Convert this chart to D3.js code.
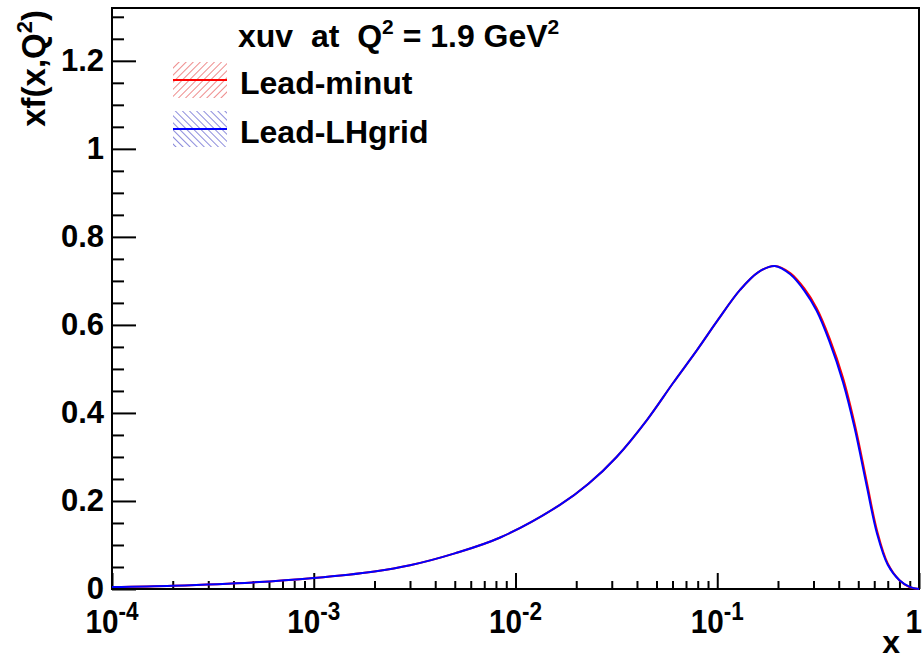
<!DOCTYPE html>
<html>
<head>
<meta charset="utf-8">
<script src="https://cdn.jsdelivr.net/npm/d3@7"></script>
<style>
  body { margin: 0; background: #fff; }
  text { font-family: "Liberation Sans", Arial, Helvetica, sans-serif; font-weight: bold; }
</style>
</head>
<body>
<svg id="chart"></svg>
<script>
const width = 922
const height = 659

// values
const xValues = [1e-4, 2e-4, 5e-4, 1e-3, 2e-3, 3e-3, 5e-3, 0.0084, 0.0166, 0.023, 0.0317, 0.045, 0.0604,
  0.08, 0.1, 0.13, 0.16, 0.193, 0.23, 0.27, 0.311, 0.36, 0.42, 0.48, 0.55, 0.62, 0.7, 0.8, 0.9, 1]
const minutValues = [0.0045, 0.0075, 0.015, 0.025, 0.04, 0.054, 0.081, 0.117, 0.191, 0.239, 0.30, 0.385, 0.468,
  0.545, 0.609, 0.68, 0.72, 0.734, 0.718, 0.683, 0.638, 0.57, 0.48, 0.375, 0.245, 0.132, 0.058, 0.02, 0.004, 0]
const lhgridValues = [0.0045, 0.0075, 0.015, 0.025, 0.04, 0.054, 0.081, 0.117, 0.191, 0.239, 0.30, 0.385, 0.468,
  0.545, 0.609, 0.68, 0.72, 0.734, 0.715, 0.678, 0.632, 0.562, 0.47, 0.365, 0.235, 0.125, 0.055, 0.02, 0.005, 0]

const seriesNames = ["Lead-minut", "Lead-LHgrid"]
const seriesColors = ["#ff0000", "#0000ff"]
const yTickValues = [0, 0.2, 0.4, 0.6, 0.8, 1, 1.2]
const xTickExponents = [-4, -3, -2, -1, 0]

const x = d3.scaleLog().domain([1e-4, 1]).range([112, 919])
const y = d3.scaleLinear().domain([0, 1.32]).range([589, 8])

const svg = d3.select("#chart").attr("width", width).attr("height", height)

// hatch patterns for the legend
const defs = svg.append("defs")
function hatch(id, color, angle) {
  const p = defs.append("pattern")
    .attr("id", id)
    .attr("patternUnits", "userSpaceOnUse")
    .attr("width", 5)
    .attr("height", 5)
    .attr("patternTransform", `rotate(${angle})`)
  p.append("line")
    .attr("x1", 0.5).attr("y1", 0).attr("x2", 0.5).attr("y2", 5)
    .attr("stroke", color)
    .attr("stroke-width", 1)
}
hatch("hatchRed", "#ee8c8c", 45)
hatch("hatchBlue", "#8c8cdc", -45)

// minor ticks
const yMinor = d3.range(0, 1.3001, 0.05).filter((v) => Math.abs(v / 0.2 - Math.round(v / 0.2)) > 1e-6)
const xMinor = []
xTickExponents.slice(0, -1).forEach((e) => {
  for (let k = 2; k <= 9; k++) xMinor.push(k * Math.pow(10, e))
})

svg.append("g")
  .attr("transform", `translate(${x.range()[0]},0)`)
  .call(d3.axisLeft(y).tickValues(yTickValues).tickSize(-24).tickSizeOuter(0).tickPadding(8)
    .tickFormat(d3.format("~g")))
  .call((g) => g.select(".domain").remove())
  .call((g) => g.selectAll("line").attr("stroke", "#000").attr("stroke-width", 2))
  .call((g) => g.selectAll("text").attr("font-size", 31).attr("fill", "#000").attr("font-family", null))

svg.append("g")
  .attr("transform", `translate(${x.range()[0]},0)`)
  .call(d3.axisLeft(y).tickValues(yMinor).tickSize(-12).tickSizeOuter(0).tickFormat(""))
  .call((g) => g.select(".domain").remove())
  .call((g) => g.selectAll("line").attr("stroke", "#000").attr("stroke-width", 2))

svg.append("g")
  .attr("transform", `translate(0,${y.range()[0]})`)
  .call(d3.axisBottom(x).tickValues(xTickExponents.map((e) => Math.pow(10, e))).tickSize(-16).tickSizeOuter(0).tickFormat(""))
  .call((g) => g.select(".domain").remove())
  .call((g) => g.selectAll("line").attr("stroke", "#000").attr("stroke-width", 2))

svg.append("g")
  .attr("transform", `translate(0,${y.range()[0]})`)
  .call(d3.axisBottom(x).tickValues(xMinor).tickSize(-8).tickSizeOuter(0).tickFormat(""))
  .call((g) => g.select(".domain").remove())
  .call((g) => g.selectAll("line").attr("stroke", "#000").attr("stroke-width", 2))

// x tick labels 10^n
xTickExponents.forEach((e) => {
  const last = e === 0
  const g = svg.append("g")
    .attr("transform", `translate(${last ? 922 : x(Math.pow(10, e))},633) scale(0.9,1)`)
  const t = g.append("text").attr("text-anchor", last ? "end" : "middle").attr("font-size", 33)
  if (last) {
    t.text("1")
  } else {
    t.append("tspan").text("10")
    t.append("tspan").attr("font-size", 25).attr("dy", -13).text(e)
  }
})

// frame
svg.append("rect")
  .attr("x", x.range()[0])
  .attr("y", y.range()[1])
  .attr("width", x.range()[1] - x.range()[0])
  .attr("height", y.range()[0] - y.range()[1])
  .attr("fill", "none")
  .attr("stroke", "#000")
  .attr("stroke-width", 2)

// curves
const line = d3.line()
  .x((d) => x(d[0]))
  .y((d) => y(d[1]))
  .curve(d3.curveCatmullRom.alpha(0.5))

;[minutValues, lhgridValues].forEach((vals, i) => {
  svg.append("path")
    .datum(xValues.map((xv, j) => [xv, vals[j]]))
    .attr("d", line)
    .attr("fill", "none")
    .attr("stroke", seriesColors[i])
    .attr("stroke-width", 2)
})

// axis titles
svg.append("text")
  .attr("x", 900)
  .attr("y", 653)
  .attr("text-anchor", "end")
  .attr("font-size", 32)
  .text("x")

const yTitle = svg.append("text")
  .attr("transform", "translate(45,10) rotate(-90)")
  .attr("text-anchor", "end")
  .attr("font-size", 33)
yTitle.append("tspan").text("xf(x,Q")
yTitle.append("tspan").attr("font-size", 22).attr("dy", -13).text("2")
yTitle.append("tspan").attr("dy", 13).text(")")

// legend
const title = svg.append("text")
  .attr("x", 238)
  .attr("y", 47)
  .attr("font-size", 32)
title.append("tspan").text("xuv\u00a0\u00a0at\u00a0\u00a0Q")
title.append("tspan").attr("font-size", 21).attr("dy", -13).text("2")
title.append("tspan").attr("dy", 13).text(" = 1.9 GeV")
title.append("tspan").attr("font-size", 21).attr("dy", -13).text("2")

const legendRows = [
  { top: 62, fill: "url(#hatchRed)" },
  { top: 111, fill: "url(#hatchBlue)" }
]
legendRows.forEach((r, i) => {
  svg.append("rect")
    .attr("x", 173).attr("y", r.top)
    .attr("width", 54).attr("height", 36)
    .attr("fill", r.fill)
  svg.append("line")
    .attr("x1", 173).attr("x2", 227)
    .attr("y1", r.top + 18).attr("y2", r.top + 18)
    .attr("stroke", seriesColors[i])
    .attr("stroke-width", 2)
  svg.append("text")
    .attr("x", 240)
    .attr("y", r.top + 31.5)
    .attr("font-size", 32)
    .text(seriesNames[i])
})
</script>
</body>
</html>
